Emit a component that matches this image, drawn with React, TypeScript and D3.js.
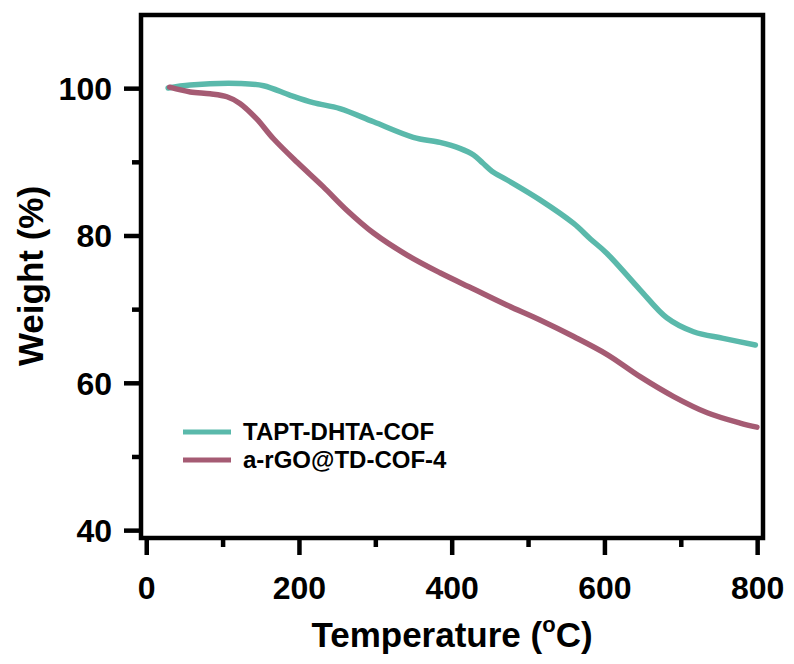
import React from "react";
import * as d3 from "d3";

const tempA = [28, 57, 122, 153, 188, 218, 253, 297, 349, 384, 410, 428, 440, 452, 472, 515, 559, 581, 603, 646, 681, 716, 755, 797];
const weightA = [100.1, 100.5, 100.7, 100.4, 99.1, 98.1, 97.3, 95.5, 93.4, 92.7, 91.9, 91.0, 89.9, 88.8, 87.6, 84.9, 81.7, 79.6, 77.6, 72.7, 68.9, 67.0, 66.1, 65.2];

const tempB = [30, 57, 83, 105, 122, 144, 166, 197, 231, 262, 297, 341, 384, 428, 472, 515, 559, 603, 646, 690, 734, 777, 799];
const weightB = [100.2, 99.55, 99.3, 98.9, 98.0, 95.9, 93.2, 90.0, 86.7, 83.5, 80.4, 77.4, 75.0, 72.8, 70.6, 68.6, 66.35, 63.9, 60.9, 58.2, 56.0, 54.6, 54.05];

const seriesNames = ["TAPT-DHTA-COF", "a-rGO@TD-COF-4"];
const seriesColors = ["#5ab9ab", "#a55b73"];

const xMajor = [0, 200, 400, 600, 800];
const xMinor = [100, 300, 500, 700];
const yMajor = [40, 60, 80, 100];
const yMinor = [50, 70, 90];

const FONT = "'Liberation Sans', Arial, sans-serif";

export default function App() {
  const W = 794, H = 664;
  const x = d3.scaleLinear().domain([-7.5, 807]).range([141, 763]);
  const y = d3.scaleLinear().domain([39, 110]).range([538, 15]);
  const [x0, x1] = x.range();
  const [y0, y1] = y.range();

  const line = d3
    .line<[number, number]>()
    .x((d) => x(d[0]))
    .y((d) => y(d[1]))
    .curve(d3.curveCatmullRom.alpha(0.5));

  const dA = line(tempA.map((t, i) => [t, weightA[i]] as [number, number])) || "";
  const dB = line(tempB.map((t, i) => [t, weightB[i]] as [number, number])) || "";

  const sw = 4.5;

  return (
    <svg width={W} height={H} style={{ position: "absolute", left: 0, top: 0, background: "#fff" }}>
      <rect x={0} y={0} width={W} height={H} fill="#fff" />
      <path d={dA} fill="none" stroke={seriesColors[0]} strokeWidth={5.5} strokeLinejoin="round" strokeLinecap="round" />
      <path d={dB} fill="none" stroke={seriesColors[1]} strokeWidth={5.5} strokeLinejoin="round" strokeLinecap="round" />

      {/* frame */}
      <rect x={x0} y={y1} width={x1 - x0} height={y0 - y1} fill="none" stroke="#000" strokeWidth={sw} />

      {/* x ticks */}
      {xMajor.map((v) => (
        <g key={"xm" + v}>
          <line x1={x(v)} x2={x(v)} y1={y0} y2={y0 + 17} stroke="#000" strokeWidth={sw} />
          <text x={x(v)} y={599} textAnchor="middle" fontFamily={FONT} fontWeight="bold" fontSize={32} fill="#000">
            {v}
          </text>
        </g>
      ))}
      {xMinor.map((v) => (
        <line key={"xn" + v} x1={x(v)} x2={x(v)} y1={y0} y2={y0 + 9} stroke="#000" strokeWidth={sw} />
      ))}

      {/* y ticks */}
      {yMajor.map((v) => (
        <g key={"ym" + v}>
          <line x1={x0} x2={x0 - 17} y1={y(v)} y2={y(v)} stroke="#000" strokeWidth={sw} />
          <text x={112} y={y(v) + 11.5} textAnchor="end" fontFamily={FONT} fontWeight="bold" fontSize={32} fill="#000">
            {v}
          </text>
        </g>
      ))}
      {yMinor.map((v) => (
        <line key={"yn" + v} x1={x0} x2={x0 - 9} y1={y(v)} y2={y(v)} stroke="#000" strokeWidth={sw} />
      ))}

      {/* axis titles */}
      <text x={452} y={647} textAnchor="middle" fontFamily={FONT} fontWeight="bold" fontSize={35} fill="#000">
        Temperature (
        <tspan dy={-15} fontSize={22}>o</tspan>
        <tspan dy={15}>C)</tspan>
      </text>
      <text
        transform={`translate(43, 276) rotate(-90)`}
        textAnchor="middle"
        fontFamily={FONT}
        fontWeight="bold"
        fontSize={35}
        fill="#000"
      >
        Weight (%)
      </text>

      {/* legend */}
      {seriesNames.map((n, i) => (
        <g key={n}>
          <line x1={183} x2={231} y1={432 + i * 28} y2={432 + i * 28} stroke={seriesColors[i]} strokeWidth={5} />
          <text x={243} y={440 + i * 28} fontFamily={FONT} fontWeight="bold" fontSize={24} fill="#000">
            {n}
          </text>
        </g>
      ))}
    </svg>
  );
}
